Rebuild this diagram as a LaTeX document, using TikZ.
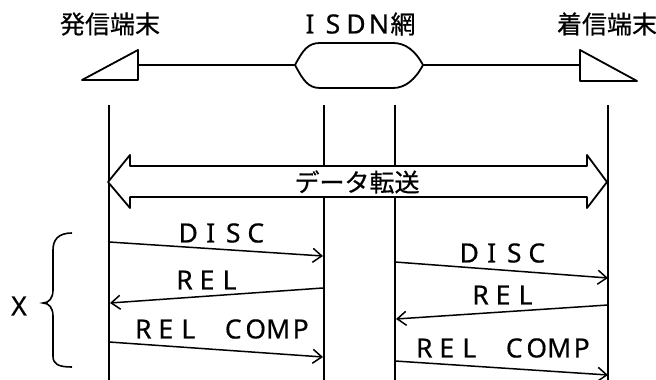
\documentclass[tikz,border=0pt]{standalone}
\usepackage{fontspec}
\setmainfont[FakeBold=0.6]{Noto Sans CJK JP}
\newfontfamily\latinf[FakeBold=0.5]{Noto Sans}
\newcommand\fwc[1]{\makebox[22.5pt]{#1}}
\newcommand\fwt[1]{\makebox[23pt]{#1}}
\usetikzlibrary{arrows.meta}
\begin{document}
\begin{tikzpicture}[x=1pt,y=-1pt,
  lbl/.style={inner sep=0pt,font=\fontsize{25}{25}\selectfont},
  msglbl/.style={inner sep=0pt,font=\latinf\fontsize{26.5}{26.5}\selectfont},
  life/.style={line width=2pt},
  shapeline/.style={line width=1.8pt,line join=round},
  msg/.style={line width=1.5pt,-{Straight Barb[length=9pt,width=14pt,line width=1.5pt]}}]
\useasboundingbox (0,0) rectangle (656,380);
% labels
\node[lbl] (src) at (110,24) {発信端末};
\node[lbl] (net) at (357,24) {{\latinf\fontsize{26.5}{26.5}\selectfont\fwt{I}\fwt{S}\fwt{D}\fwt{N}}網};
\node[lbl] (dst) at (607,24) {着信端末};
% network topology
\coordinate (lt) at (138,65);
\coordinate (nl) at (295,65);
\coordinate (nr) at (423,65);
\coordinate (rt) at (580,65);
\draw[shapeline] (82,80) -- (138,50) -- (138,80) -- cycle;
\draw[shapeline] (580,50) -- (580,81) -- (637,81) -- cycle;
\draw[shapeline] (nl) .. controls (303,50) and (308,43) .. (320,43) -- (393,43)
  .. controls (405,43) and (415,50) .. (nr) .. controls (415,80) and (405,88) .. (393,88)
  -- (320,88) .. controls (308,88) and (303,80) .. (nl) -- cycle;
\draw[shapeline] (lt) -- (nl);
\draw[shapeline] (nr) -- (rt);
% lifelines
\coordinate (a1) at (109,105); \coordinate (a2) at (109,380);
\coordinate (b1) at (323.5,105); \coordinate (b2) at (323.5,380);
\coordinate (c1) at (395,105); \coordinate (c2) at (395,380);
\coordinate (d1) at (608,105); \coordinate (d2) at (608,380);
\draw[life] (a1) -- (a2);
\draw[life] (b1) -- (b2);
\draw[life] (c1) -- (c2);
\draw[life] (d1) -- (d2);
% data transfer arrow
\draw[shapeline,fill=white] (108,182) -- (130,155) -- (130,166) -- (587,166) -- (587,155)
  -- (607,182) -- (587,208) -- (587,197) -- (130,197) -- (130,208) -- cycle;
\node[lbl] (data) at (357,182) {データ転送};
% left messages
\coordinate (m1s) at (109,242); \coordinate (m1e) at (323,256);
\coordinate (m2s) at (323,288); \coordinate (m2e) at (110,303);
\coordinate (m3s) at (109,342); \coordinate (m3e) at (323,357);
\draw[msg] (m1s) -- (m1e);
\draw[msg] (m2s) -- (m2e);
\draw[msg] (m3s) -- (m3e);
\node[msglbl] (l1) at (222,233) {\fwc{D}\fwc{I}\fwc{S}\fwc{C}};
\node[msglbl] (l2) at (207,280) {\fwc{R}\fwc{E}\fwc{L}};
\node[msglbl] (l3) at (222,329) {\fwc{R}\fwc{E}\fwc{L}\fwc{}\fwc{C}\fwc{O}\fwc{M}\fwc{P}};
% right messages
\coordinate (n1s) at (395,262); \coordinate (n1e) at (608,278);
\coordinate (n2s) at (608,305); \coordinate (n2e) at (396,319);
\coordinate (n3s) at (395,361); \coordinate (n3e) at (608,375);
\draw[msg] (n1s) -- (n1e);
\draw[msg] (n2s) -- (n2e);
\draw[msg] (n3s) -- (n3e);
\node[msglbl] (r1) at (503,253) {\fwc{D}\fwc{I}\fwc{S}\fwc{C}};
\node[msglbl] (r2) at (503,295) {\fwc{R}\fwc{E}\fwc{L}};
\node[msglbl] (r3) at (503,348) {\fwc{R}\fwc{E}\fwc{L}\fwc{}\fwc{C}\fwc{O}\fwc{M}\fwc{P}};
% brace
\draw[line width=1.6pt] (72,233) .. controls (58,233) and (53,240) .. (53,250) -- (53,290)
  .. controls (53,298) and (49,303) .. (43,303) .. controls (49,303) and (53,308) .. (53,316)
  -- (53,356) .. controls (53,364) and (58,367) .. (72,367);
\node[msglbl] (xl) at (19,306) {X};
\end{tikzpicture}
\end{document}
